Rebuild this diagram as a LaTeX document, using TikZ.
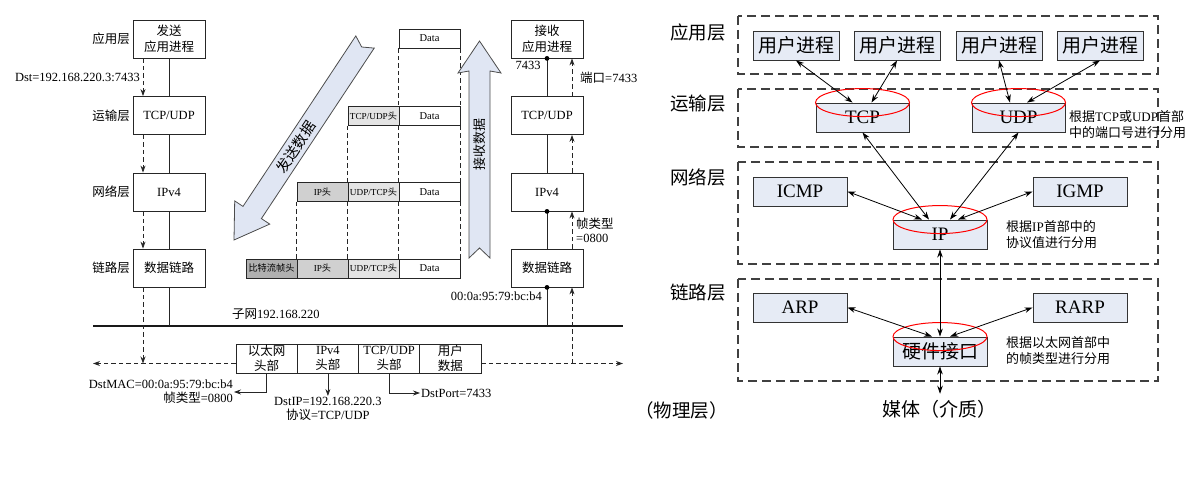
\documentclass[tikz,border=0pt]{standalone}
\usepackage{fontspec}
\setmainfont{Liberation Serif}
\newfontfamily\cjk{Noto Sans CJK SC}
\newcommand\zh[1]{{\cjk #1}}
\newcommand\fsz[2]{\fontsize{#1}{#2}\selectfont}
\usetikzlibrary{arrows.meta,calc}
\definecolor{boxblue}{RGB}{230,235,245}
\definecolor{arrowfill}{RGB}{224,230,243}
\definecolor{hdrA}{RGB}{176,176,176}
\definecolor{hdrB}{RGB}{208,208,208}
\definecolor{hdrC}{RGB}{228,228,228}
\begin{document}
\begin{tikzpicture}[x=1pt,y=-1pt,
  stackbox/.style={draw=black!85, line width=0.8pt, fill=white, minimum width=72pt, minimum height=38pt, inner sep=0pt, align=center, font=\fsz{12.5}{16}},
  zhbox/.style={stackbox, font={\fsz{12.5}{16}\cjk}},
  lbl/.style={inner sep=1pt, font=\fsz{12.5}{14}},
  zhlbl/.style={inner sep=1pt, font={\fsz{12.5}{14}\cjk}},
  cell/.style={draw=black!85, line width=0.7pt, minimum height=19pt, inner sep=0pt, font=\fsz{9.2}{11}},
  datacell/.style={cell, fill=white, minimum width=61pt, font=\fsz{10.5}{12}},
  hdrcell/.style={cell, minimum width=51pt},
  pktcell/.style={draw=black!85, line width=0.8pt, fill=white, minimum width=61.25pt, minimum height=29pt, inner sep=0pt, align=center, font=\fsz{12.5}{15}},
  zhpkt/.style={pktcell, font={\fsz{12.5}{15}\cjk}},
  solidline/.style={line width=0.7pt, black!85},
  dashline/.style={line width=0.8pt, black!85, dash pattern=on 4.5pt off 3pt},
  tipL/.style={-{Stealth[length=7pt,width=5pt]}},
  bigarrow/.style={fill=arrowfill, draw=black!70, line width=0.8pt, line join=miter},
  rbox/.style={draw=black!80, line width=0.9pt, fill=boxblue, minimum width=94pt, minimum height=29pt, inner sep=0pt, font=\fsz{19}{22}},
  zhrbox/.style={rbox, font={\fsz{19}{22}\cjk}},
  ubox/.style={zhrbox, minimum width=86pt},
  layerframe/.style={draw=black!75, line width=1.3pt, dash pattern=on 9pt off 5pt},
  layerlbl/.style={inner sep=0pt, font={\fsz{18.5}{20}\cjk}},
  notelbl/.style={inner sep=0pt, align=left, font=\fsz{13}{16}},
  dbl/.style={{Stealth[length=8pt,width=5.5pt]}-{Stealth[length=8pt,width=5.5pt]}, line width=0.8pt, black},
  redring/.style={draw=red, line width=1pt}
]
\useasboundingbox (0,0) rectangle (1190,481);

% ================= LEFT DIAGRAM =================
% sender stack
\node[zhbox] (sapp) at (169,39) {发送\\应用进程};
\node[stackbox] (stcp) at (169,115.5) {TCP/UDP};
\node[stackbox] (sip) at (169,192) {IPv4};
\node[zhbox] (slink) at (169,268) {数据链路};
% receiver stack
\node[zhbox] (rapp) at (547,39) {接收\\应用进程};
\node[stackbox] (rtcp) at (547,115.5) {TCP/UDP};
\node[stackbox] (rip) at (547,192) {IPv4};
\node[zhbox] (rlink) at (547,268) {数据链路};

% layer labels
\node[zhlbl, anchor=east] (l1) at (131,39) {应用层};
\node[zhlbl, anchor=east] (l2) at (131,115.5) {运输层};
\node[zhlbl, anchor=east] (l3) at (131,192) {网络层};
\node[zhlbl, anchor=east] (l4) at (131,268) {链路层};
\node[lbl, anchor=east] (dst) at (141,77) {Dst=192.168.220.3:7433};

% solid stack lines
\draw[solidline] (sapp.south) -- (stcp.north);
\draw[solidline] (stcp.south) -- (sip.north);
\draw[solidline] (sip.south) -- (slink.north);
\draw[solidline] (rapp.south) -- (rtcp.north);
\draw[solidline] (rtcp.south) -- (rip.north);
\draw[solidline] (rip.south) -- (rlink.north);

% sender dashed arrows (down)
\draw[dashline,tipL] ([xshift=-26pt]sapp.south) -- ([xshift=-26pt]stcp.north);
\draw[dashline,tipL] ([xshift=-26pt]stcp.south) -- ([xshift=-26pt]sip.north);
\draw[dashline,tipL] ([xshift=-26pt]sip.south) -- ([xshift=-26pt]slink.north);
% receiver dashed arrows (up)
\draw[dashline,tipL] ([xshift=25pt]rtcp.north) -- ([xshift=25pt]rapp.south);
\draw[dashline,tipL] ([xshift=25pt]rip.north) -- ([xshift=25pt]rtcp.south);
\draw[dashline,tipL] ([xshift=25pt]rlink.north) -- ([xshift=25pt]rip.south);

% receiver labels
\node[lbl] (p7433) at (528,65) {7433};
\node[lbl, anchor=west] (port) at (579,78) {\zh{端口}=7433};
\node[lbl, anchor=west, align=left] (ftype) at (575,230) {\zh{帧类型}\\=0800};
\node[lbl, anchor=east] (rmac) at (543,296.5) {00:0a:95:79:bc:b4};

% subnet
\coordinate (subL) at (93,326);
\coordinate (subR) at (623,326);
\draw[line width=1.8pt, black!90] (subL) -- (subR);
\node[lbl, anchor=west] (subnet) at (231,314) {\zh{子网}192.168.220};
\draw[solidline] (slink.south) -- (slink.south |- subL);
\draw[solidline] (rlink.south) -- (rlink.south |- subL);
\fill (rapp.south) circle (2.4pt);
\fill (rip.south) circle (2.4pt);
\fill (rlink.south) circle (2.4pt);

% packet
\node[zhpkt] (pk1) at (266.6,358.5) {以太网\\头部};
\node[pktcell] (pk2) at (327.9,358.5) {IPv4\\\zh{头部}};
\node[pktcell] (pk3) at (389.1,358.5) {TCP/UDP\\\zh{头部}};
\node[zhpkt] (pk4) at (450.4,358.5) {用户\\数据};

\coordinate (busL) at (93,363.5);
\coordinate (busR) at (623,363.5);
\draw[dashline,tipL] ([yshift=-5pt]pk1.west) -- (busL);
\draw[dashline,tipL] ([yshift=-5pt]pk4.east) -- (busR);
\coordinate (sdash) at ([xshift=-26pt]slink.south);
\coordinate (rdash) at ([xshift=25pt]rlink.south);
\draw[dashline,tipL] (sdash) -- (sdash |- busL);
\draw[dashline,tipL] (rdash |- busR) -- (rdash);

% packet field labels
\node[lbl, anchor=east, align=right] (dstmac) at (234,392) {DstMAC=00:0a:95:79:bc:b4\\\zh{帧类型}=0800};
\node[lbl, anchor=north, align=center] (dstip) at (327.9,396) {DstIP=192.168.220.3\\\zh{协议}=TCP/UDP};
\node[lbl, anchor=west] (dstport) at (420,393) {DstPort=7433};
\draw[solidline,tipL] (pk1.south) |- (dstmac.east);
\draw[solidline,tipL] (pk2.south) -- (dstip.north);
\draw[solidline,tipL] (pk3.south) |- (dstport.west);

% encapsulation blocks
\node[datacell] (d1) at (429.5,38.5) {Data};
\node[hdrcell, fill=hdrC] (h2a) at (373.5,116) {TCP/UDP\zh{头}};
\node[datacell] (d2) at (429.5,116) {Data};
\node[hdrcell, fill=hdrB] (h3a) at (322.5,192) {IP\zh{头}};
\node[hdrcell, fill=hdrC] (h3b) at (373.5,192) {UDP/TCP\zh{头}};
\node[datacell] (d3) at (429.5,192) {Data};
\node[hdrcell, fill=hdrA] (h4a) at (271.5,268.5) {\zh{比特流帧头}};
\node[hdrcell, fill=hdrB] (h4b) at (322.5,268.5) {IP\zh{头}};
\node[hdrcell, fill=hdrC] (h4c) at (373.5,268.5) {UDP/TCP\zh{头}};
\node[datacell] (d4) at (429.5,268.5) {Data};

\draw[dashline] (d1.south west) -- (d2.north west);
\draw[dashline] (d1.south east) -- (d2.north east);
\draw[dashline] (h2a.south west) -- (h3b.north west);
\draw[dashline] (d2.south west) -- (d3.north west);
\draw[dashline] (d2.south east) -- (d3.north east);
\draw[dashline] (h3a.south west) -- (h4b.north west);
\draw[dashline] (h3b.south west) -- (h4c.north west);
\draw[dashline] (d3.south west) -- (d4.north west);
\draw[dashline] (d3.south east) -- (d4.north east);

% big arrows
\draw[bigarrow] (234,240) -- (269.7,224.1) -- (261.4,218.6) -- (374.2,48.1) -- (361.7,47.0) -- (355.8,35.9) -- (243.0,206.4) -- (234.7,200.9) -- cycle;
\node[rotate=56.5, inner sep=0pt, font={\fsz{14.5}{15}\cjk}] (sendtxt) at (296,147) {发送数据};
\draw[bigarrow] (479.5,41) -- (501,73) -- (490,71) -- (490,258) -- (479.5,248) -- (469,258) -- (469,71) -- (458,73) -- cycle;
\node[rotate=90, inner sep=0pt, font={\fsz{13}{14}\cjk}] (recvtxt) at (479.5,145) {接收数据};

% ================= RIGHT DIAGRAM =================
\draw[layerframe] (738,16) rectangle (1158,74);
\draw[layerframe] (738,89) rectangle (1158,147);
\draw[layerframe] (738,162) rectangle (1158,264);
\draw[layerframe] (738,279) rectangle (1158,381);

\node[layerlbl] (ra) at (698,32) {应用层};
\node[layerlbl] (rt) at (698,104) {运输层};
\node[layerlbl] (rn) at (698,177) {网络层};
\node[layerlbl] (rl) at (698,293) {链路层};
\node[layerlbl] (rp) at (681.5,410) {（物理层）};

\node[ubox] (u1) at (796,45.5) {用户进程};
\node[ubox] (u2) at (897,45.5) {用户进程};
\node[ubox] (u3) at (999,45.5) {用户进程};
\node[ubox] (u4) at (1100,45.5) {用户进程};

\node[rbox, minimum width=93pt] (tcp) at (862.5,117.5) {TCP};
\node[rbox, minimum width=93pt] (udp) at (1018.5,117.5) {UDP};
\node[rbox] (icmp) at (800,191.5) {ICMP};
\node[rbox] (igmp) at (1080,191.5) {IGMP};
\node[rbox] (ip) at (940,234.5) {IP};
\node[rbox] (arp) at (800,307.5) {ARP};
\node[rbox] (rarp) at (1080,307.5) {RARP};
\node[zhrbox] (hw) at (940,351.5) {硬件接口};
\node[inner sep=2pt, font={\fsz{19}{20}\cjk}] (media) at (939,409) {媒体（介质）};

\draw[redring] (tcp.north) ellipse [x radius=47pt, y radius=14pt];
\draw[redring] (udp.north) ellipse [x radius=47pt, y radius=14pt];
\draw[redring] (ip.north) ellipse [x radius=47pt, y radius=14pt];
\draw[redring] (hw.north) ellipse [x radius=47pt, y radius=14pt];

\draw[dbl] (u1.south) -- ([xshift=-10pt]tcp.north);
\draw[dbl] (u2.south) -- ([xshift=9pt]tcp.north);
\draw[dbl] (u3.south) -- ([xshift=-8.5pt]udp.north);
\draw[dbl] (u4.south) -- ([xshift=8.5pt]udp.north);
\draw[dbl] (tcp.south) -- ([xshift=-11pt]ip.north);
\draw[dbl] (udp.south) -- ([xshift=10pt]ip.north);
\draw[dbl] (icmp.east) -- ([xshift=-18pt]ip.north);
\draw[dbl] (igmp.west) -- ([xshift=18pt]ip.north);
\draw[dbl] (ip.south) -- (hw.north);
\draw[dbl] (arp.east) -- ([xshift=-8pt]hw.north);
\draw[dbl] (rarp.west) -- ([xshift=10pt]hw.north);
\draw[dbl, shorten >=4pt] (hw.south) -- (hw.south |- media.north);

\node[notelbl, anchor=west] (n1) at (1069,125) {\zh{根据}TCP\zh{或}UDP\zh{首部}\\\zh{中的端口号进行分用}};
\node[notelbl, anchor=west] (n2) at (1006,234.5) {\zh{根据}IP\zh{首部中的}\\\zh{协议值进行分用}};
\node[notelbl, anchor=west] (n3) at (1006,351) {\zh{根据以太网首部中}\\\zh{的帧类型进行分用}};
\end{tikzpicture}
\end{document}
